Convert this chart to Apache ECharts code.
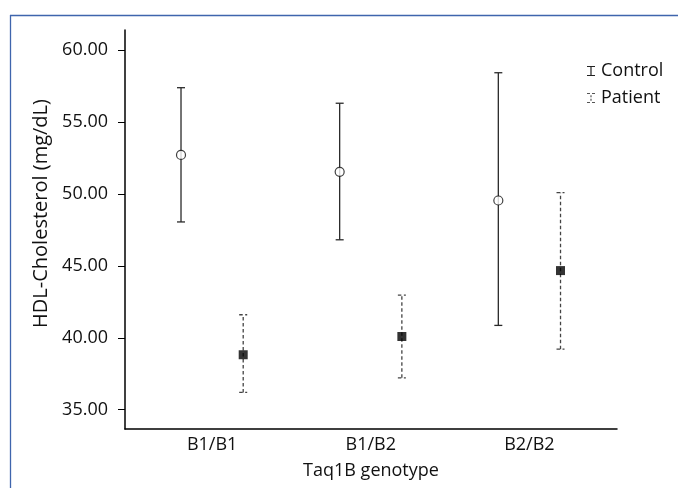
<!DOCTYPE html>
<html>
<head>
<meta charset="utf-8">
<script src="https://cdn.jsdelivr.net/npm/echarts@6/dist/echarts.min.js"></script>
<style>
html,body{margin:0;padding:0;background:#fff;}
#chart{width:678px;height:488px;}
</style>
</head>
<body>
<div id="chart"></div>
<script>
// ---- data ----
const categories = ['B1/B1', 'B1/B2', 'B2/B2'];
const controlMean = [52.71, 51.53, 49.54];
const controlLow  = [48.05, 46.81, 40.86];
const controlHigh = [57.38, 56.30, 58.42];
const patientMean = [38.82, 40.09, 44.67];
const patientLow  = [36.20, 37.22, 39.21];
const patientHigh = [41.60, 42.96, 50.09];
const yTicks = [35, 40, 45, 50, 55, 60];
const xTitle = 'Taq1B genotype';
const yTitle = 'HDL-Cholesterol (mg/dL)';

// ---- layout ----
const FONT = 'Open Sans';
const OFF = 0.196;          // dodge of each group within a category
const catPos = categories.map((c, i) => i + 1);

function errorBarRender(color, dash) {
  return function (params, api) {
    const x = api.value(0), lo = api.value(1), hi = api.value(2);
    const pLo = api.coord([x, lo]);
    const pHi = api.coord([x, hi]);
    const cw = 4;
    const style = { stroke: color, lineWidth: 1.3, lineDash: dash, fill: null };
    return {
      type: 'group',
      children: [
        { type: 'line', shape: { x1: pLo[0], y1: pLo[1], x2: pHi[0], y2: pHi[1] }, style: style },
        { type: 'line', shape: { x1: pHi[0] - cw, y1: pHi[1], x2: pHi[0] + cw, y2: pHi[1] }, style: style },
        { type: 'line', shape: { x1: pLo[0] - cw, y1: pLo[1], x2: pLo[0] + cw, y2: pLo[1] }, style: style }
      ]
    };
  };
}

const ctrlIcon = 'path://M0,0H8V1H4.6V9H8V10H0V9H3.4V1H0Z';
const patIcon = 'path://M0,0H3V1H0Z M5,0H8V1H5Z M3.4,2.2H4.6V4.2H3.4Z M3.4,5.8H4.6V7.8H3.4Z M0,9H3V10H0Z M5,9H8V10H5Z';

const chart = echarts.init(document.getElementById('chart'), null, { renderer: 'canvas' });
chart.setOption({
  animation: false,
  backgroundColor: '#ffffff',
  textStyle: { fontFamily: FONT },
  graphic: [
    { type: 'line', shape: { x1: 10, y1: 15.5, x2: 678, y2: 15.5 }, style: { stroke: '#3f65ad', lineWidth: 1.3 } },
    { type: 'line', shape: { x1: 10.5, y1: 15, x2: 10.5, y2: 488 }, style: { stroke: '#3f65ad', lineWidth: 1.3 } }
  ],
  legend: {
    orient: 'vertical',
    left: 582,
    top: 57,
    itemWidth: 8,
    itemHeight: 10,
    itemGap: 9,
    textStyle: { fontFamily: FONT, fontSize: 18, color: '#111', padding: [0, 0, 0, 1] },
    data: [
      { name: 'Control', icon: ctrlIcon, itemStyle: { color: '#222' } },
      { name: 'Patient', icon: patIcon, itemStyle: { color: '#555' } }
    ]
  },
  grid: { left: 125, right: 61, top: 30, bottom: 59 },
  xAxis: {
    type: 'value',
    min: 0.451,
    max: 3.552,
    name: xTitle,
    nameLocation: 'middle',
    nameGap: 33,
    nameTextStyle: { fontFamily: FONT, fontSize: 18, color: '#111' },
    axisLine: { show: true, onZero: false, lineStyle: { color: '#000', width: 1.5 } },
    axisTick: { show: false },
    splitLine: { show: false },
    axisLabel: {
      customValues: catPos,
      fontFamily: FONT, fontSize: 18, color: '#111', margin: 7,
      formatter: v => categories[Math.round(v) - 1] || ''
    }
  },
  yAxis: {
    type: 'value',
    min: 33.66,
    max: 61.39,
    name: yTitle,
    nameLocation: 'middle',
    nameGap: 69,
    nameTextStyle: { fontFamily: FONT, fontSize: 20, color: '#111', padding: [0, 0, 0, 32] },
    axisLine: { show: true, lineStyle: { color: '#000', width: 1.5 } },
    axisTick: { show: true, customValues: yTicks, length: 7, lineStyle: { color: '#000', width: 1 } },
    splitLine: { show: false },
    axisLabel: {
      customValues: yTicks,
      fontFamily: FONT, fontSize: 18, color: '#111', margin: 17,
      formatter: v => v.toFixed(2)
    }
  },
  series: [
    {
      name: 'Control', type: 'custom', z: 2,
      renderItem: errorBarRender('#2a2a2a', null),
      data: catPos.map((p, i) => [p - OFF, controlLow[i], controlHigh[i]])
    },
    {
      name: 'Patient', type: 'custom', z: 2,
      renderItem: errorBarRender('#444444', [3.5, 2.5]),
      data: catPos.map((p, i) => [p + OFF, patientLow[i], patientHigh[i]])
    },
    {
      name: 'Control', type: 'scatter', z: 3,
      symbol: 'circle', symbolSize: 9,
      itemStyle: { color: '#ffffff', borderColor: '#111', borderWidth: 1.2 },
      data: catPos.map((p, i) => [p - OFF, controlMean[i]])
    },
    {
      name: 'Patient', type: 'scatter', z: 3,
      symbol: 'rect', symbolSize: 9,
      itemStyle: { color: '#000' },
      data: catPos.map((p, i) => [p + OFF, patientMean[i]])
    }
  ]
});
</script>
</body>
</html>
